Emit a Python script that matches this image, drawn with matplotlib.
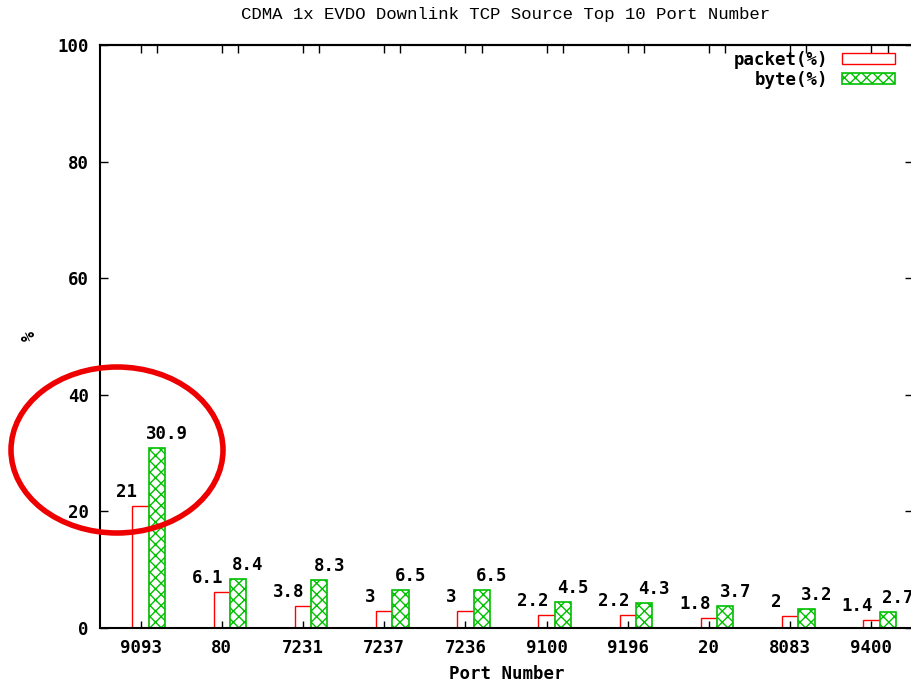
import matplotlib
matplotlib.use("Agg")
import matplotlib.pyplot as plt
from matplotlib.patches import Ellipse, Patch
import numpy as np

ports = ["9093", "80", "7231", "7237", "7236", "9100", "9196", "20", "8083", "9400"]
packet = [21, 6.1, 3.8, 3, 3, 2.2, 2.2, 1.8, 2, 1.4]
byte = [30.9, 8.4, 8.3, 6.5, 6.5, 4.5, 4.3, 3.7, 3.2, 2.7]
packet_labels = ["21", "6.1", "3.8", "3", "3", "2.2", "2.2", "1.8", "2", "1.4"]
byte_labels = ["30.9", "8.4", "8.3", "6.5", "6.5", "4.5", "4.3", "3.7", "3.2", "2.7"]

RED = "#ff0000"
GREEN = "#00c000"
FONT = "DejaVu Sans Mono"

plt.rcParams['hatch.linewidth'] = 1.0
plt.rcParams['hatch.color'] = GREEN

fig = plt.figure(figsize=(9.12, 6.85), dpi=100)
ax = fig.add_axes([100/912, 1-628/685, 813/912, (628-45)/685])

x = np.arange(len(ports))
w = 0.2
ax.bar(x, packet, width=w, facecolor="white", edgecolor=RED, linewidth=1.0)
ax.bar(x + w, byte, width=w, facecolor="white", edgecolor=GREEN, linewidth=1.2, hatch="xxx")

for xi, v, s in zip(x, packet, packet_labels):
    ax.annotate(s, (xi, v), xytext=(-14, 5), textcoords="offset pixels", ha="center", va="bottom",
                fontfamily=FONT, fontweight="bold", fontsize=12.5)
for xi, v, s in zip(x, byte, byte_labels):
    ax.annotate(s, (xi + w, v), xytext=(10, 5), textcoords="offset pixels", ha="center", va="bottom",
                fontfamily=FONT, fontweight="bold", fontsize=12.5)

ax.set_xlim(-0.5, 9.5 + 1/81)
ax.set_ylim(0, 100)
ax.set_xticks(x)
ax.set_xticklabels(ports, fontfamily=FONT, fontweight="bold", fontsize=12.5)
ax.set_yticks([0, 20, 40, 60, 80, 100])
ax.set_yticklabels(["0", "20", "40", "60", "80", "100"], fontfamily=FONT, fontweight="bold", fontsize=12.5)
ax.tick_params(axis="x", direction="in", length=5, width=1, pad=8)
ax.tick_params(axis="y", direction="in", length=6, width=1, pad=8, right=True)

top = ax.secondary_xaxis("top")
top.set_xticks(np.concatenate([x, x + w]))
top.set_xticklabels([])
top.tick_params(direction="in", length=6, width=1)
top.spines["top"].set_linewidth(1.5)

for sp in ax.spines.values():
    sp.set_linewidth(1.5)

ax.set_xlabel("Port Number", fontfamily=FONT, fontweight="bold", fontsize=12.5, labelpad=6)
fig.text(30/912, 1-336/685, "%", rotation=90, ha="center", va="center",
         fontfamily=FONT, fontweight="bold", fontsize=12)
fig.text(506/912, 1-15/685, "CDMA 1x EVDO Downlink TCP Source Top 10 Port Number",
         ha="center", va="center", fontfamily="Liberation Mono", fontsize=12.5)

handles = [Patch(facecolor="white", edgecolor=RED, linewidth=1.0),
           Patch(facecolor="white", edgecolor=GREEN, hatch="xxx", linewidth=1.2)]
leg = ax.legend(handles, ["packet(%)", "byte(%)"], loc="upper right", frameon=False,
                markerfirst=False, prop={"family": FONT, "weight": "bold", "size": 12.5},
                handlelength=3.0, handleheight=0.65, handletextpad=0.8, labelspacing=0.1,
                borderaxespad=0.1, bbox_to_anchor=(0.988, 1.005))

ell = Ellipse((117/912, 1-450/685), 212/912, 166/685, transform=fig.transFigure,
              fill=False, edgecolor="#ee0000", linewidth=4, clip_on=False)
fig.patches.append(ell)

fig.savefig("out.png", dpi=100)
